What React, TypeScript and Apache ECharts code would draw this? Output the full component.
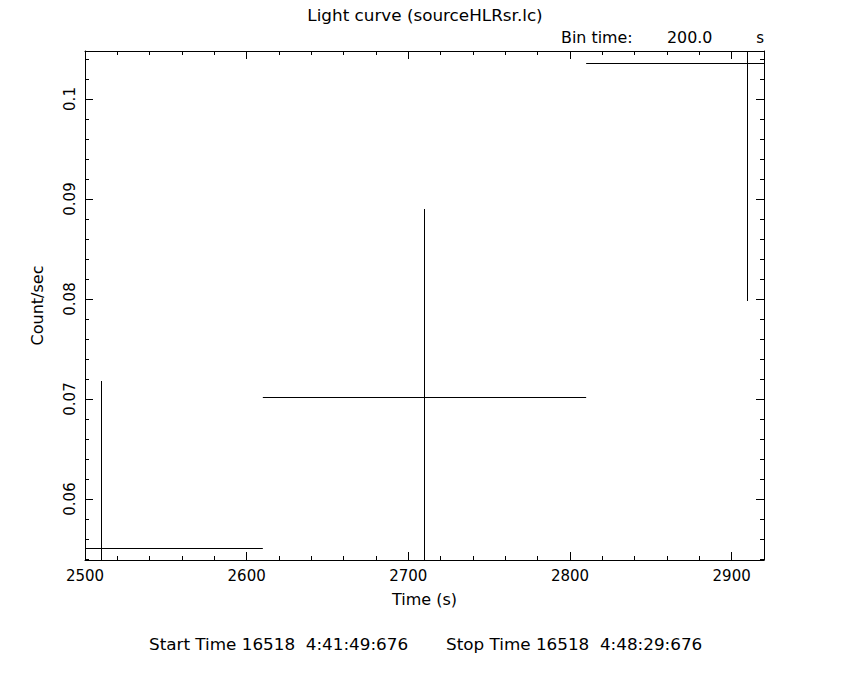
import React, { useEffect, useRef } from "react";
import * as echarts from "echarts";

// Data
const times = [2510, 2710, 2910]; // bin centres (s)
const rates = [0.0551, 0.0702, 0.1036]; // count/sec
const errors = [0.0167, 0.0188, 0.0238]; // 1-sigma errors
const binHalfWidth = [100, 100, 100]; // half of 200 s bin

// Axis ticks
const xMajorTicks = [2500, 2600, 2700, 2800, 2900];
const xMinorTicks = [2500, 2520, 2540, 2560, 2580, 2600, 2620, 2640, 2660, 2680, 2700, 2720, 2740, 2760, 2780, 2800, 2820, 2840, 2860, 2880, 2900, 2920];
const yMajorTicks = [0.06, 0.07, 0.08, 0.09, 0.1];
const yMinorTicks = [0.054, 0.056, 0.058, 0.06, 0.062, 0.064, 0.066, 0.068, 0.07, 0.072, 0.074, 0.076, 0.078, 0.08, 0.082, 0.084, 0.086, 0.088, 0.09, 0.092, 0.094, 0.096, 0.098, 0.1, 0.102, 0.104];

const X_MIN = 2500;
const X_MAX = 2920;
const Y_MIN = 0.0539;
const Y_MAX = 0.1048;

const FONT = "DejaVu Sans";
const FS = 15;
const SX = 1.12;

export default function App() {
  const ref = useRef<HTMLDivElement>(null);
  useEffect(() => {
    if (!ref.current) return;
    const chart = echarts.init(ref.current, undefined, { renderer: "svg" });
    const black = "#000";
    const lineStyle = { color: black, width: 1 };
    const baseX = (gridIndex: number, position: string, major: boolean, showLine: boolean, showLabel: boolean, extra: any = {}) => ({
      type: "value",
      gridIndex,
      position,
      min: X_MIN,
      max: X_MAX,
      splitLine: { show: false },
      axisLine: { show: showLine, lineStyle },
      axisTick: {
        show: true,
        inside: true,
        length: major ? 8 : 4,
        lineStyle,
        customValues: major ? xMajorTicks : xMinorTicks,
      },
      axisLabel: {
        show: showLabel,
        color: black,
        fontFamily: FONT,
        fontSize: FS,
        margin: 8,
        customValues: xMajorTicks,
        formatter: (v: number) => String(v),
      },
      ...extra,
    });
    const baseY = (gridIndex: number, position: string, major: boolean, showLine: boolean, showLabel: boolean, extra: any = {}) => ({
      type: "value",
      gridIndex,
      position,
      min: Y_MIN,
      max: Y_MAX,
      splitLine: { show: false },
      axisLine: { show: showLine, lineStyle },
      axisTick: {
        show: true,
        inside: true,
        length: major ? 8 : 4,
        lineStyle,
        customValues: major ? yMajorTicks : yMinorTicks,
      },
      axisLabel: {
        show: showLabel,
        color: black,
        fontFamily: FONT,
        fontSize: FS,
        rotate: 90,
        margin: 8,
        customValues: yMajorTicks,
        formatter: (v: number) => String(v),
      },
      ...extra,
    });
    const gridRect = { left: 85, top: 51, right: 86, bottom: 120 };
    const data = times.map((t, i) => [t, rates[i], errors[i], binHalfWidth[i]]);
    const textStyle = { fill: black, fontFamily: FONT, fontSize: FS };
    const crisp = (v: number) => Math.round(v - 0.5) + 0.5;
    chart.setOption({
      animation: false,
      backgroundColor: "#fff",
      grid: [
        { ...gridRect },
        { ...gridRect },
      ],
      xAxis: [
        baseX(0, "bottom", true, true, true, {
          name: "Time (s)",
          nameLocation: "middle",
          nameGap: 31,
          nameTextStyle: { color: black, fontFamily: FONT, fontSize: 16 },
        }),
        baseX(0, "top", true, true, false),
        baseX(1, "bottom", false, false, false),
        baseX(1, "top", false, false, false),
      ],
      yAxis: [
        baseY(0, "left", true, true, true, {
          name: "Count/sec",
          nameLocation: "middle",
          nameGap: 40,
          nameRotate: 90,
          nameTextStyle: { color: black, fontFamily: FONT, fontSize: 16 },
        }),
        baseY(0, "right", true, true, false),
        baseY(1, "left", false, false, false),
        baseY(1, "right", false, false, false),
      ],
      series: [
        {
          type: "custom",
          xAxisIndex: 0,
          yAxisIndex: 0,
          data,
          encode: { x: 0, y: 1 },
          renderItem: (params: any, api: any) => {
            const t = api.value(0);
            const r = api.value(1);
            const e = api.value(2);
            const h = api.value(3);
            const cs = params.coordSys;
            const cx = (x: number) => Math.max(cs.x, Math.min(cs.x + cs.width, x));
            const cy = (y: number) => Math.max(cs.y, Math.min(cs.y + cs.height, y));
            const left = api.coord([t - h, r]);
            const right = api.coord([t + h, r]);
            const top = api.coord([t, r + e]);
            const bot = api.coord([t, r - e]);
            const st = { stroke: black, lineWidth: 1, fill: null };
            const yh = crisp(left[1]);
            const xv = crisp(top[0]);
            return {
              type: "group",
              children: [
                { type: "line", shape: { x1: cx(left[0]), y1: yh, x2: cx(right[0]), y2: yh }, style: st },
                { type: "line", shape: { x1: xv, y1: cy(top[1]), x2: xv, y2: cy(bot[1]) }, style: st },
              ],
            };
          },
        },
      ],
      graphic: [
        { type: "text", x: 425, y: 16, scaleX: SX, style: { ...textStyle, text: "Light curve (sourceHLRsr.lc)", textAlign: "center", textVerticalAlign: "middle" } },
        { type: "text", x: 561, y: 38, scaleX: 1.06, style: { ...textStyle, text: "Bin time:", textAlign: "left", textVerticalAlign: "middle" } },
        { type: "text", x: 667, y: 38, scaleX: 1.06, style: { ...textStyle, text: "200.0", textAlign: "left", textVerticalAlign: "middle" } },
        { type: "text", x: 764, y: 38, style: { ...textStyle, text: "s", textAlign: "right", textVerticalAlign: "middle" } },
        { type: "text", x: 149, y: 645, scaleX: SX, style: { ...textStyle, text: "Start Time 16518  4:41:49:676", textAlign: "left", textVerticalAlign: "middle" } },
        { type: "text", x: 446, y: 645, scaleX: SX, style: { ...textStyle, text: "Stop Time 16518  4:48:29:676", textAlign: "left", textVerticalAlign: "middle" } },
      ],
    });
    return () => chart.dispose();
  }, []);
  return (
    <div
      ref={ref}
      style={{ position: "fixed", left: 0, top: 0, width: 850, height: 680, background: "#fff" }}
    />
  );
}
